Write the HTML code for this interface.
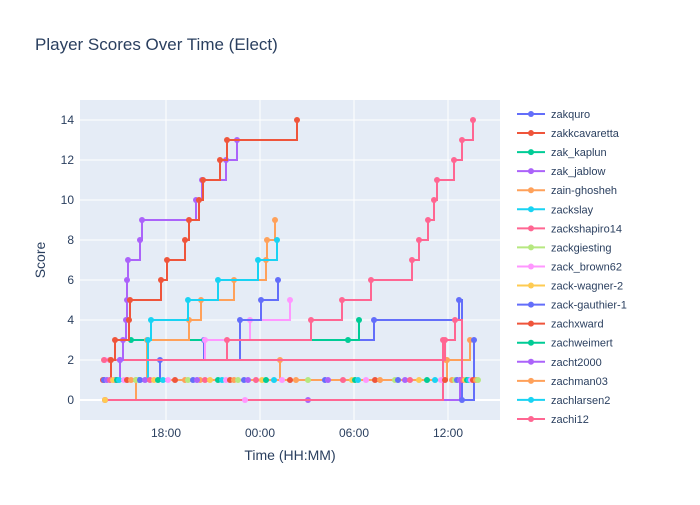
<!DOCTYPE html><html><head><style>body{margin:0;background:#fff;font-family:"Liberation Sans",sans-serif}</style></head><body>
<svg id="s" width="700" height="500" xmlns="http://www.w3.org/2000/svg" font-family="Liberation Sans, sans-serif">
<rect width="700" height="500" fill="#fff"/>
<rect x="80" y="100" width="420" height="320" fill="#E5ECF6"/>
<g id="grid" stroke="#fff" stroke-width="1"></g>
<g id="plot" clip-path="url(#c)"></g>
<clipPath id="c"><rect x="80" y="100" width="420" height="320"/></clipPath>
<text x="35" y="50" font-size="17" fill="#2a3f5f">Player Scores Over Time (Elect)</text>
<g id="yt" font-size="12" fill="#2a3f5f" text-anchor="end"></g>
<g font-size="12" fill="#2a3f5f" text-anchor="middle">
<text x="166" y="437">18:00</text><text x="260" y="437">00:00</text><text x="354" y="437">06:00</text><text x="448" y="437">12:00</text>
<text x="290" y="460" font-size="14">Time (HH:MM)</text>
<text transform="translate(45,260) rotate(-90)" font-size="14">Score</text>
</g>
<g id="leg" font-size="11" fill="#2a3f5f"></g>
</svg>
<script>
const ns="http://www.w3.org/2000/svg",Y=v=>400-20*v;
function el(p,t,a){const e=document.createElementNS(ns,t);for(const k in a)e.setAttribute(k,a[k]);p.appendChild(e);return e}
const g=document.getElementById('grid'),yt=document.getElementById('yt'),P=document.getElementById('plot');
for(let v=0;v<=14;v+=2){el(g,'line',{x1:80,x2:500,y1:Y(v),y2:Y(v),'stroke-width':v==0?2:1});const t=el(yt,'text',{x:74,y:Y(v)+4});t.textContent=v;}
[166,260,354,448].forEach(x=>el(g,'line',{x1:x,x2:x,y1:100,y2:420}));
const C=['#636EFA','#EF553B','#00CC96','#AB63FA','#FFA15A','#19D3F3','#FF6692','#B6E880','#FF97FF','#FECB52'];
const S=[
['#AB63FA',[[105,0],[308,0],[460,1]]],
['#FFA15A',[[110,1],[447,2],[470,3]]],
['#FFA15A',[[200,1],[280,2],[446,2]]],
['#636EFA',[[120,2],[204,3],[374,4],[459,5],[462,0],[474,3]]],
['#00CC96',[[131,3],[348,3],[359,4]]],
['#FF97FF',[[105,2],[205,3],[250,4],[290,5]]],
['#636EFA',[[115,1],[160,2],[240,4],[261,5],[278,6]]],
['#FFA15A',[[105,0],[136,1],[147,3],[189,4],[201,5],[234,6],[266,7],[267,8],[275,9]]],
['#19D3F3',[[139,1],[148,3],[151,4],[188,5],[218,6],[258,7],[277,8]]],
['#FF6692',[[105,0],[443,3],[455,4],[462,1]]],
['#FF6692',[[110,2],[445,3]]],
['#FF6692',[[104,2],[227,3],[311,4],[342,5],[371,6],[412,7],[419,8],[428,9],[434,10],[437,11],[454,12],[462,13],[473,14]]],
['#AB63FA',[[104,1],[120,2],[123,3],[126,4],[127,5],[127,6],[128,7],[140,8],[142,9],[196,10],[202,11],[226,12],[237,13]]],
['#EF553B',[[103,1],[111,2],[115,3],[129,4],[130,5],[161,6],[167,7],[185,8],[189,9],[199,10],[203,11],[220,12],[227,13],[297,14]]]
];
S.forEach(([c,p])=>{let d='M'+p[0][0]+','+Y(p[0][1]);for(let i=1;i<p.length;i++)d+=' H'+p[i][0]+' V'+Y(p[i][1]);
el(P,'path',{d,fill:'none',stroke:c,'stroke-width':2});p.forEach(q=>el(P,'circle',{cx:q[0],cy:Y(q[1]),r:3,fill:c}));});
const xs=[104,107,110,113,117,119,124,127,131,136,140,145,150,154,158,163,168,175,185,188,193,197,205,210,218,222,226,230,234,238,244,248,256,262,266,274,282,290,296,308,325,328,343,352,355,358,366,375,380,395,398,405,410,419,427,435,441,445,452,455,457,460,463,465,467,469,471,473,476,478];
xs.forEach((x,i)=>el(P,'circle',{cx:x,cy:Y(1),r:3,fill:C[(i*3)%10]}));
el(P,'circle',{cx:105,cy:400,r:3,fill:'#FECB52'});el(P,'circle',{cx:245,cy:400,r:3,fill:'#FF97FF'});
const L=[['zakquro',0],['zakkcavaretta',1],['zak_kaplun',2],['zak_jablow',3],['zain-ghosheh',4],['zackslay',5],['zackshapiro14',6],['zackgiesting',7],['zack_brown62',8],['zack-wagner-2',9],['zack-gauthier-1',0],['zachxward',1],['zachweimert',2],['zacht2000',3],['zachman03',4],['zachlarsen2',5],['zachi12',6]];
const lg=document.getElementById('leg');
L.forEach(([n,c],i)=>{const y=114+i*19.06;el(lg,'line',{x1:517,x2:545,y1:y,y2:y,stroke:C[c],'stroke-width':2});el(lg,'circle',{cx:531,cy:y,r:3,fill:C[c]});const t=el(lg,'text',{x:551,y:y+4});t.textContent=n;});
</script></body></html>
